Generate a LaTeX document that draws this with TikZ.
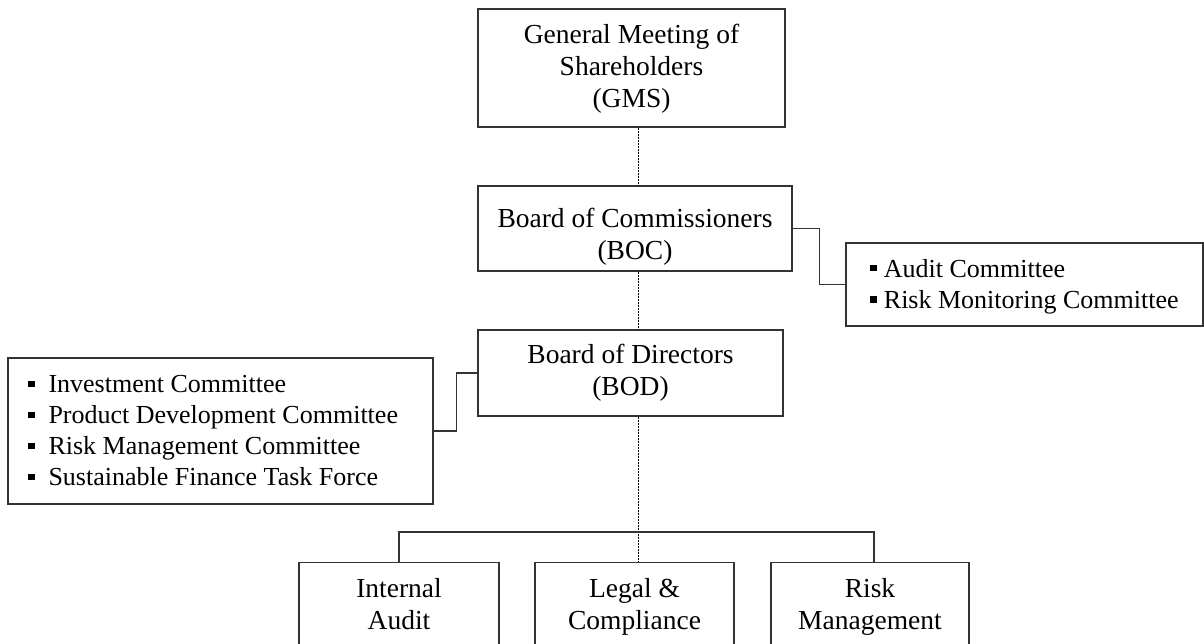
\documentclass[tikz,border=0pt]{standalone}
\usepackage{fontspec}
\setmainfont{Liberation Serif}
\usepackage{tikz}
\newcommand{\orgBullet}[1]{\raisebox{5.5pt}{\rule{6.5pt}{6.5pt}}\hspace{#1}}

\begin{document}
\begin{tikzpicture}[x=1pt,y=-1pt,
  orgbox/.style={draw=black!80, line width=1.2pt, inner sep=0pt, align=center, font=\fontsize{27.5}{32}\selectfont},
  unitbox/.style={orgbox, anchor=north, minimum height=89pt, text height=51pt, text depth=6pt},
  listbox/.style={draw=black!80, line width=1.2pt, inner sep=0pt, align=flush left, font=\fontsize{26}{31}\selectfont},
  link/.style={draw=black!80, line width=1.2pt},
  dotlink/.style={draw=black, line width=1pt, dash pattern=on 2pt off 1pt}]
\useasboundingbox (0,0) rectangle (1204,644);
% governing bodies
\node[orgbox, minimum width=307pt, minimum height=118pt, text height=86pt, text depth=6pt] (gms) at (631.5,68) {General Meeting of\\Shareholders\\(GMS)};
\node[orgbox, minimum width=314pt, minimum height=85pt, text height=68pt, text depth=6pt] (boc) at (635,228.5) {Board of Commissioners\\(BOC)};
\node[orgbox, minimum width=305pt, minimum height=86pt] (bod) at (630.5,373) {Board of Directors\\(BOD)};
% committees
\node[listbox, minimum width=357pt, minimum height=83pt, text height=52pt, text depth=5pt] (comlist) at (1024.5,284.5) {\orgBullet{7pt}Audit Committee\\\orgBullet{7pt}Risk Monitoring Committee};
\node[listbox, inner xsep=20pt, text width=385pt, minimum height=146pt] (dirlist) at (220.5,431) {\orgBullet{14pt}Investment Committee\\\orgBullet{14pt}Product Development Committee\\\orgBullet{14pt}Risk Management Committee\\\orgBullet{14pt}Sustainable Finance Task Force};
% units
\node[unitbox, minimum width=200pt] (audit) at (399,562) {Internal\\Audit};
\node[unitbox, minimum width=199pt] (legal) at (634.5,562) {Legal \&\\Compliance};
\node[unitbox, minimum width=198pt] (riskmgmt) at (870,562) {Risk\\Management};
% lines
\coordinate (spine) at (638,0);
\draw[dotlink] (gms.south -| spine) -- (boc.north -| spine);
\draw[dotlink] (boc.south -| spine) -- (bod.north -| spine);
\draw[dotlink] (bod.south -| spine) -- (legal.north -| spine);
\draw[link] (boc.east) -- ++(27,0) |- (comlist.west);
\draw[link] (bod.west) -- ++(-21,0) |- (dirlist.east);
\draw[link] (audit.north) -- ++(0,-30) -| ([xshift=4pt]riskmgmt.north);
\end{tikzpicture}
\end{document}
